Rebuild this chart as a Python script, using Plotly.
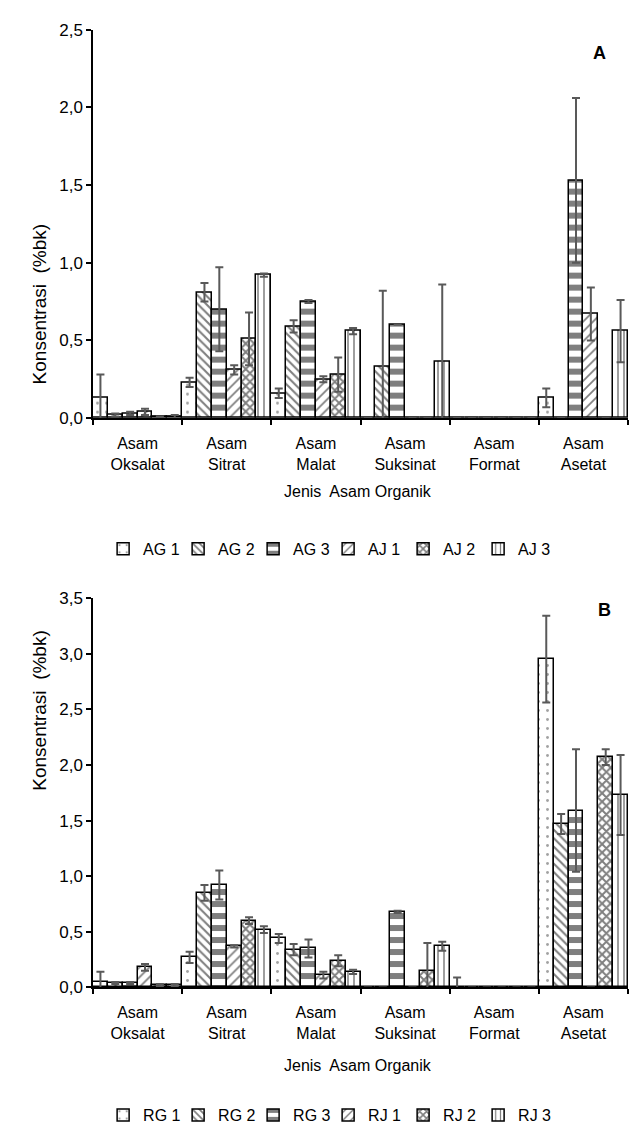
import plotly.graph_objects as go

categories = ["Asam<br>Oksalat", "Asam<br>Sitrat", "Asam<br>Malat",
              "Asam<br>Suksinat", "Asam<br>Format", "Asam<br>Asetat"]

# Panel A
names_a = ["AG 1", "AG 2", "AG 3", "AJ 1", "AJ 2", "AJ 3"]
ag1 = [0.13, 0.23, 0.16, 0.00, 0.00, 0.13]
ag2 = [0.02, 0.81, 0.59, 0.33, 0.00, 0.00]
ag3 = [0.03, 0.70, 0.75, 0.60, 0.00, 1.53]
aj1 = [0.04, 0.31, 0.25, 0.00, 0.00, 0.67]
aj2 = [0.01, 0.51, 0.28, 0.00, 0.00, 0.00]
aj3 = [0.01, 0.92, 0.56, 0.36, 0.00, 0.56]
ag1_err = [0.15, 0.03, 0.03, 0.00, 0.00, 0.06]
ag2_err = [0.01, 0.06, 0.04, 0.49, 0.00, 0.00]
ag3_err = [0.01, 0.27, 0.01, 0.00, 0.00, 0.53]
aj1_err = [0.02, 0.03, 0.02, 0.00, 0.00, 0.17]
aj2_err = [0.00, 0.17, 0.11, 0.00, 0.00, 0.00]
aj3_err = [0.01, 0.01, 0.02, 0.50, 0.00, 0.20]

# Panel B
names_b = ["RG 1", "RG 2", "RG 3", "RJ 1", "RJ 2", "RJ 3"]
rg1 = [0.05, 0.27, 0.44, 0.00, 0.00, 2.95]
rg2 = [0.04, 0.85, 0.34, 0.00, 0.00, 1.47]
rg3 = [0.04, 0.92, 0.35, 0.68, 0.00, 1.59]
rj1 = [0.18, 0.37, 0.11, 0.00, 0.00, 0.00]
rj2 = [0.02, 0.60, 0.24, 0.15, 0.00, 2.07]
rj3 = [0.02, 0.52, 0.14, 0.37, 0.00, 1.73]
rg1_err = [0.09, 0.05, 0.04, 0.00, 0.09, 0.39]
rg2_err = [0.01, 0.07, 0.05, 0.00, 0.00, 0.09]
rg3_err = [0.01, 0.13, 0.08, 0.01, 0.00, 0.55]
rj1_err = [0.03, 0.01, 0.03, 0.00, 0.00, 0.00]
rj2_err = [0.01, 0.03, 0.05, 0.25, 0.00, 0.07]
rj3_err = [0.01, 0.03, 0.02, 0.04, 0.00, 0.36]

patterns = [
    dict(shape=".", size=9, solidity=0.08, fgcolor="#444", bgcolor="white"),
    dict(shape="\\", size=6, solidity=0.35, fgcolor="black", bgcolor="white"),
    dict(shape="-", size=12, solidity=0.5, fgcolor="black", bgcolor="white"),
    dict(shape="/", size=7, solidity=0.25, fgcolor="black", bgcolor="white"),
    dict(shape="x", size=6, solidity=0.55, fgcolor="black", bgcolor="white"),
    dict(shape="|", size=6, solidity=0.25, fgcolor="black", bgcolor="white"),
]

FONT = "Liberation Sans"
xpos = list(range(len(categories)))

fig = go.Figure()

def add_panel(names, series, errs, xaxis, yaxis, legend):
    for i, (nm, vals, er) in enumerate(zip(names, series, errs)):
        fig.add_trace(go.Bar(
            x=xpos, y=vals, name=nm, xaxis=xaxis, yaxis=yaxis, legend=legend,
            marker=dict(color="white", line=dict(color="black", width=1.5),
                        pattern=patterns[i]),
            error_y=dict(type="data", array=er, visible=True, color="#595959",
                         thickness=2, width=4),
            offsetgroup=str(i),
        ))

add_panel(names_a, [ag1, ag2, ag3, aj1, aj2, aj3],
          [ag1_err, ag2_err, ag3_err, aj1_err, aj2_err, aj3_err], "x", "y", "legend")
add_panel(names_b, [rg1, rg2, rg3, rj1, rj2, rj3],
          [rg1_err, rg2_err, rg3_err, rj1_err, rj2_err, rj3_err], "x2", "y2", "legend2")

H = 1142.0
W = 631.0
xdom = [93 / W, 628 / W]

xcommon = dict(
    range=[-0.5, 5.5], tickvals=xpos, ticktext=categories, ticks="",
    showline=True, linecolor="black", linewidth=1.5, showgrid=False, zeroline=False,
    tickfont=dict(family=FONT, size=16, color="black"), ticklabelstandoff=10,
    minor=dict(tickvals=[-0.5 + k for k in range(7)], ticks="outside", ticklen=5,
               tickcolor="black", tickwidth=1.5),
)
ycommon = dict(
    showline=True, linecolor="black", linewidth=1.5, showgrid=False, zeroline=False,
    ticks="outside", ticklen=5, tickcolor="black", tickwidth=1.5,
    tickformat=".1f", tickfont=dict(family=FONT, size=17, color="black"),
)

legend_common = dict(orientation="h", xanchor="center", yanchor="middle",
                     font=dict(family=FONT, size=16, color="black"),
                     itemwidth=30, tracegroupgap=0, entrywidth=30)

fig.update_layout(
    width=631, height=1142,
    margin=dict(l=0, r=0, t=0, b=0),
    paper_bgcolor="white", plot_bgcolor="white",
    separators=", ",
    barmode="group", bargap=0, bargroupgap=0,
    font=dict(family=FONT, size=16, color="black"),
    xaxis=dict(domain=xdom, anchor="y", **xcommon),
    yaxis=dict(domain=[1 - 416 / H, 1 - 21 / H], anchor="x",
               range=[0, 2.5], dtick=0.5, **ycommon),
    xaxis2=dict(domain=xdom, anchor="y2", **xcommon),
    yaxis2=dict(domain=[1 - 995 / H, 1 - 599 / H], anchor="x2",
                range=[0, 3.5], dtick=0.5, **ycommon),
    legend=dict(x=0.52, y=1 - 549 / H, **legend_common),
    legend2=dict(x=0.52, y=0, **dict(legend_common, yanchor="bottom")),
    annotations=[
        dict(text="Konsentrasi  (%bk)", x=27 / W, y=1 - 216 / H, xref="paper", yref="paper",
             textangle=-90, showarrow=False, font=dict(family=FONT, size=19)),
        dict(text="Konsentrasi  (%bk)", x=27 / W, y=1 - 797 / H, xref="paper", yref="paper",
             textangle=-90, showarrow=False, font=dict(family=FONT, size=19)),
        dict(text="Jenis  Asam Organik", x=358 / W, y=1 - 491 / H, xref="paper", yref="paper",
             showarrow=False, font=dict(family=FONT, size=16)),
        dict(text="Jenis  Asam Organik", x=358 / W, y=1 - 1085 / H, xref="paper", yref="paper",
             showarrow=False, font=dict(family=FONT, size=16)),
        dict(text="<b>A</b>", x=608 / W, y=1 - 33 / H, xref="paper", yref="paper",
             showarrow=False, font=dict(family=FONT, size=18)),
        dict(text="<b>B</b>", x=613 / W, y=1 - 611 / H, xref="paper", yref="paper",
             showarrow=False, font=dict(family=FONT, size=18)),
    ],
)

fig.write_html("out.html")
